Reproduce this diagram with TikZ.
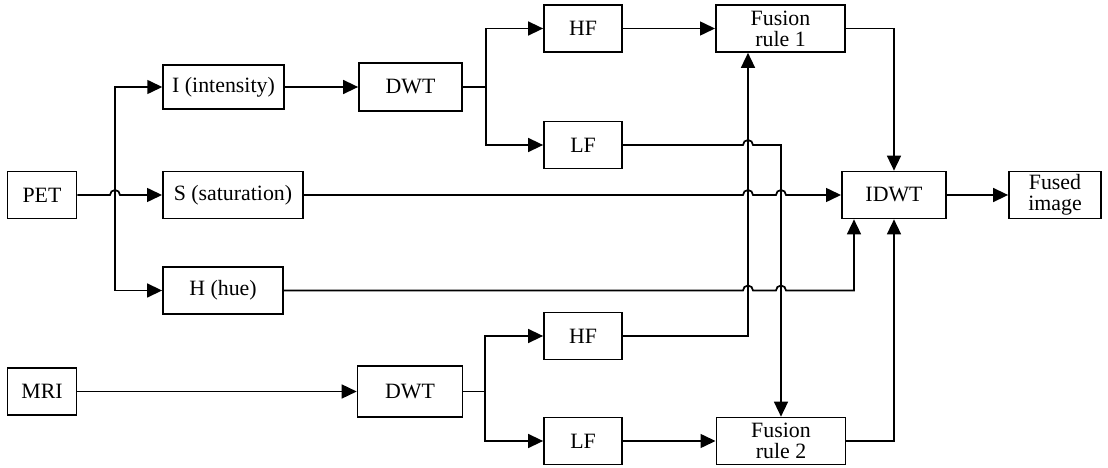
\documentclass[tikz,border=0pt]{standalone}
\usepackage{fontspec}
\setmainfont{Liberation Serif}
\usetikzlibrary{arrows.meta,calc}

\begin{document}
\begin{tikzpicture}[x=0.0164cm,y=-0.0164cm,line width=0.8pt,
		box/.style={draw, minimum height=0.77cm, inner sep=1pt, align=center, font=\fontsize{10.2pt}{9.8pt}\selectfont},
		arr/.style={-{Triangle[length=7pt,width=6.5pt]}}]
		\useasboundingbox (0,0) rectangle (1108,468);

		% PET branch
		\node [box, minimum width=1.13cm] (PET) at (42,195) {PET};
		\node [box, minimum width=1.98cm, minimum height=0.72cm] (I) at (223.5,87) {I (intensity)};
		\node [box, minimum width=2.30cm] (S) at (233,195) {S (saturation)};
		\node [box, minimum width=1.97cm] (H) at (223,290.5) {H (hue)};
		\node [box, minimum width=1.69cm, minimum height=0.79cm] (DWTa) at (410.5,87) {DWT};
		\node [box, minimum width=1.28cm] (HFa) at (583,28.5) {HF};
		\node [box, minimum width=1.28cm] (LFa) at (583,145) {LF};
		\node [box, minimum width=2.12cm] (FRa) at (780.5,28.5) {Fusion\\rule 1};

		% output
		\node [box, minimum width=1.71cm] (IDWT) at (894,195) {IDWT};
		\node [box, minimum width=1.51cm] (out) at (1055,195) {Fused\\image};

		% MRI branch
		\node [box, minimum width=1.13cm] (MRI) at (42,391.5) {MRI};
		\node [box, minimum width=1.72cm, minimum height=0.84cm] (DWTb) at (410,391.5) {DWT};
		\node [box, minimum width=1.28cm] (HFb) at (583,336) {HF};
		\node [box, minimum width=1.28cm] (LFb) at (583,441) {LF};
		\node [box, minimum width=2.12cm] (FRb) at (781,441) {Fusion\\rule 2};

		\coordinate (pb) at (115,195);
		\coordinate (ta) at (486,87);
		\coordinate (tb) at (485,391.5);
		\coordinate (ua) at (748,336);
		\coordinate (ub) at (781,145);
		\coordinate (hx) at (854,290.5);

		\draw[arr] (PET.east) -- ($(pb)+(-5,0)$) arc[start angle=180,end angle=0,radius=2.33pt] -- (S.west);
		\draw[arr] (pb) |- (I.west);
		\draw[arr] (pb) |- (H.west);
		\draw[arr] (I) -- (DWTa);
		\draw (DWTa) -- (ta);
		\draw[arr] (ta) |- (HFa);
		\draw[arr] (ta) |- (LFa);
		\draw[arr] (HFa) -- (FRa);
		\draw[arr] (LFa.east) -- ($(LFa.east -| ua)+(-5,0)$) arc[start angle=180,end angle=0,radius=2.33pt] -- (ub) -- (FRb.north);
		\draw[arr] (S.east) -- ($(S.east -| ua)+(-5,0)$) arc[start angle=180,end angle=0,radius=2.33pt]
			-- ($(S.east -| ub)+(-5,0)$) arc[start angle=180,end angle=0,radius=2.33pt] -- (IDWT.west);
		\draw[arr] (H.east) -- ($(H.east -| ua)+(-5,0)$) arc[start angle=180,end angle=0,radius=2.33pt]
			-- ($(H.east -| ub)+(-5,0)$) arc[start angle=180,end angle=0,radius=2.33pt] -- (hx) -- (hx |- IDWT.south);
		\draw[arr] (HFb.east) -- (ua) -- (ua |- FRa.south);
		\draw[arr] (FRa.east) -| (IDWT.north);
		\draw[arr] (FRb.east) -| (IDWT.south);
		\draw[arr] (IDWT) -- (out);
		\draw[arr] (MRI) -- (DWTb);
		\draw (DWTb) -- (tb);
		\draw[arr] (tb) |- (HFb);
		\draw[arr] (tb) |- (LFb);
		\draw[arr] (LFb) -- (FRb);
\end{tikzpicture}
\end{document}
